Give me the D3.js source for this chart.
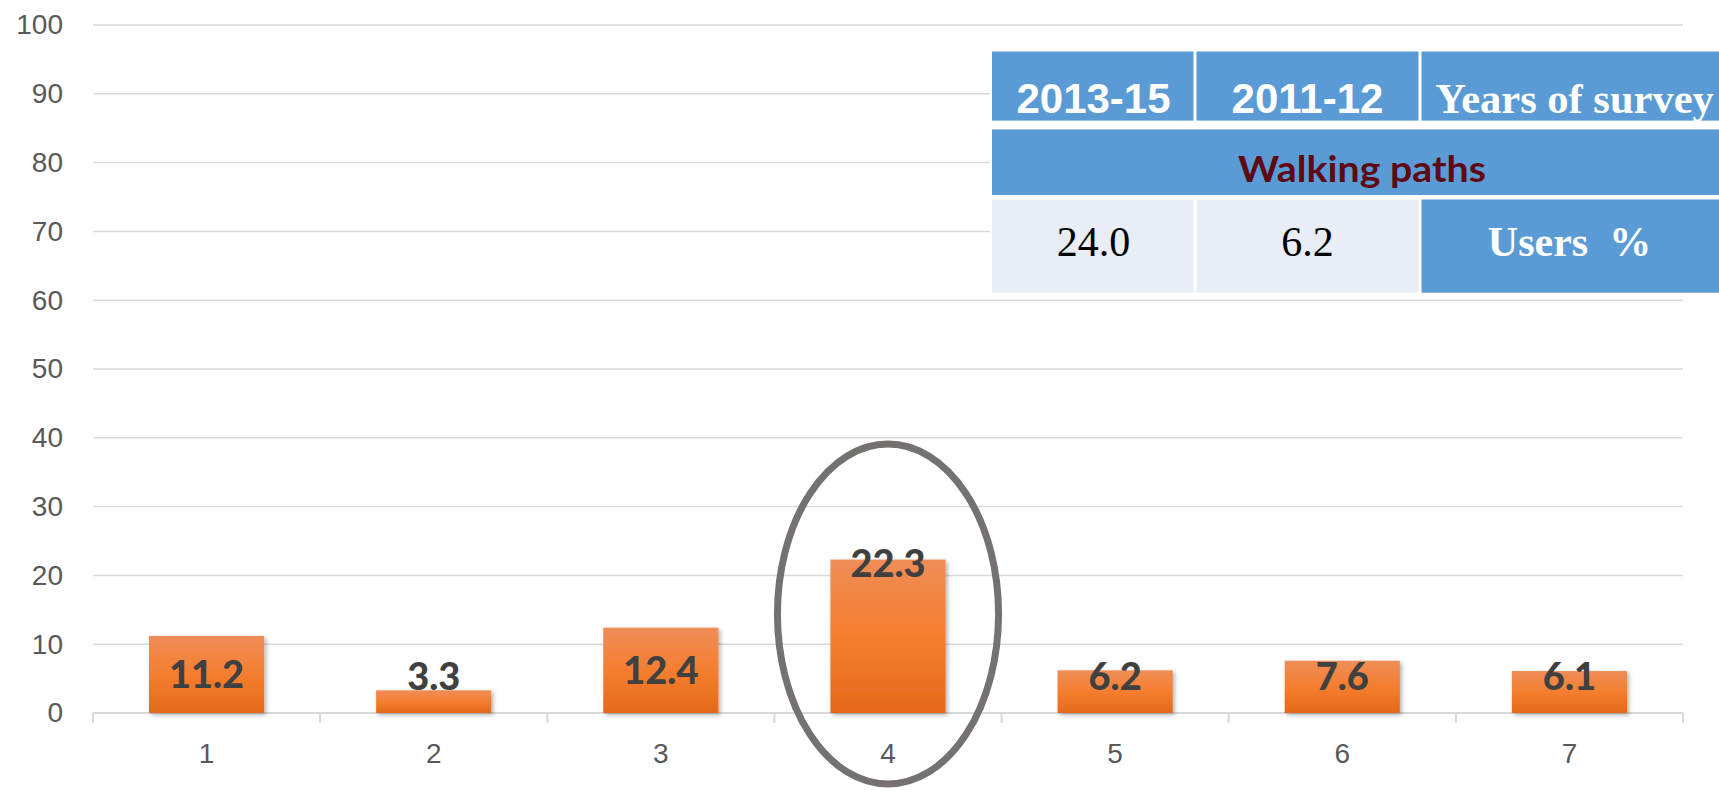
<!DOCTYPE html>
<html><head><meta charset="utf-8">
<script src="https://cdn.jsdelivr.net/npm/d3@7"></script>
<style>html,body{margin:0;padding:0;background:#fff;overflow:hidden}</style>
</head><body>
<svg id="chart" width="1719" height="792"></svg>
<script>
const categories = ["1","2","3","4","5","6","7"];
const values = [11.2, 3.3, 12.4, 22.3, 6.2, 7.6, 6.1];
const yTicks = [0,10,20,30,40,50,60,70,80,90,100];
const highlighted = "4";
const tableHeader = ["2013-15", "2011-12", "Years of survey"];
const tableTitle = "Walking paths";
const tableValues = ["24.0", "6.2"];
const tableRowLabel = "Users  %";

const W = 1719, H = 792;
const m = {left: 93, right: 1683, top: 25, bottom: 713};
const svg = d3.select("#chart");

const defs = svg.append("defs");
const grad = defs.append("linearGradient").attr("id","barGrad").attr("x1",0).attr("x2",0).attr("y1",0).attr("y2",1);
grad.append("stop").attr("offset","0%").attr("stop-color","#F08D58");
grad.append("stop").attr("offset","50%").attr("stop-color","#F47E2F");
grad.append("stop").attr("offset","100%").attr("stop-color","#E5691A");
const f = defs.append("filter").attr("id","shadow").attr("x","-20%").attr("y","-20%").attr("width","140%").attr("height","140%");
f.append("feDropShadow").attr("dx",2).attr("dy",2).attr("stdDeviation",2).attr("flood-color","#000").attr("flood-opacity",0.3);

const x = d3.scaleBand().domain(categories).range([m.left, m.right]).paddingInner(0.493).paddingOuter(0.2465);
const y = d3.scaleLinear().domain([0,100]).range([m.bottom, m.top]);

// gridlines
svg.append("g").selectAll("line").data(yTicks.filter(d=>d>0)).join("line")
  .attr("x1", m.left).attr("x2", m.right)
  .attr("y1", d=>y(d)).attr("y2", d=>y(d))
  .attr("stroke","#D9D9D9").attr("stroke-width",1.5);

// y axis labels
const yAxis = d3.axisLeft(y).tickValues(yTicks).tickSize(0).tickPadding(0);
const gy = svg.append("g").attr("transform",`translate(${m.left-30},0)`).call(yAxis);
gy.select(".domain").remove();
gy.selectAll("text").attr("font-family","'Liberation Sans', Arial, sans-serif").attr("font-size",28).attr("fill","#595959");

// x axis
const step = x.step();
const boundaries = d3.range(categories.length+1).map(i => m.left + i*step);
svg.append("line").attr("x1",m.left).attr("x2",m.right).attr("y1",y(0)).attr("y2",y(0))
  .attr("stroke","#D9D9D9").attr("stroke-width",2);
svg.append("g").selectAll("line").data(boundaries).join("line")
  .attr("x1",d=>d).attr("x2",d=>d).attr("y1",y(0)).attr("y2",y(0)+10)
  .attr("stroke","#D9D9D9").attr("stroke-width",2);
svg.append("g").selectAll("text").data(categories).join("text")
  .attr("x", d=>x(d)+x.bandwidth()/2).attr("y", 763)
  .attr("text-anchor","middle").attr("font-family","'Liberation Sans', Arial, sans-serif")
  .attr("font-size",28).attr("fill","#595959").text(d=>d);

// bars
svg.append("g").selectAll("rect").data(values).join("rect")
  .attr("x",(d,i)=>x(categories[i])).attr("width",x.bandwidth())
  .attr("y",d=>y(d)).attr("height",d=>y(0)-y(d))
  .attr("fill","url(#barGrad)").attr("filter","url(#shadow)");

// data labels
svg.append("g").selectAll("text").data(values).join("text")
  .attr("x",(d,i)=>x(categories[i])+x.bandwidth()/2)
  .attr("y",d=>{
    const top = y(d), mid = (y(d)+y(0))/2;
    return d > 20 ? top + 17 : Math.min(mid + 14, y(0) - 23);
  })
  .attr("text-anchor","middle").attr("font-family","Lato, 'Open Sans', sans-serif")
  .attr("font-weight",900).attr("font-size",38).attr("fill","#404040")
  .text(d=>d.toFixed(1));

// highlight ellipse
const cx = x(highlighted) + x.bandwidth()/2;
svg.append("ellipse").attr("cx",cx).attr("cy",614)
  .attr("rx", x.bandwidth()*0.96).attr("ry",170)
  .attr("fill","none").attr("stroke","#767171").attr("stroke-width",7);

// table
const colX = [992, 1195, 1420, 1719];
const rows = [[51.5,120.6],[129.4,195],[199.5,292.7]];
const tbl = svg.append("g");
tbl.append("rect").attr("x",colX[0]-2).attr("y",rows[0][0]-2).attr("width",W-colX[0]+2).attr("height",rows[2][1]-rows[0][0]+4).attr("fill","#fff");
const gap = 1.5;
// header row
tbl.selectAll("rect.h").data(tableHeader).join("rect").attr("class","h")
  .attr("x",(d,i)=>colX[i]+(i>0?gap:0)).attr("y",rows[0][0])
  .attr("width",(d,i)=>colX[i+1]-colX[i]-(i>0?gap:0)-(i<2?gap:0)).attr("height",rows[0][1]-rows[0][0])
  .attr("fill","#5B9BD5");
tbl.selectAll("text.h").data(tableHeader).join("text").attr("class","h")
  .attr("x",(d,i)=>(colX[i]+colX[i+1])/2 + (i===2?5:0)).attr("y",113)
  .attr("text-anchor","middle").attr("fill","#fff").attr("font-weight",700)
  .attr("font-family",(d,i)=> i<2 ? "'Liberation Sans', Arial, sans-serif" : "'Liberation Serif', 'Times New Roman', serif")
  .attr("font-size",(d,i)=> i<2 ? 42 : 42.5).text(d=>d);
// title row
tbl.append("rect").attr("x",colX[0]).attr("y",rows[1][0]).attr("width",W-colX[0]).attr("height",rows[1][1]-rows[1][0]).attr("fill","#5B9BD5");
tbl.append("text").attr("x",1362).attr("y",182).attr("text-anchor","middle")
  .attr("font-family","Lato, 'Open Sans', sans-serif").attr("font-weight",700).attr("font-size",37)
  .attr("textLength",248).attr("lengthAdjust","spacingAndGlyphs")
  .attr("fill","#5E0A14").text(tableTitle);
// values row
const row3 = tableValues.concat([tableRowLabel]);
tbl.selectAll("rect.v").data(row3).join("rect").attr("class","v")
  .attr("x",(d,i)=>colX[i]+(i>0?gap:0)).attr("y",rows[2][0])
  .attr("width",(d,i)=>colX[i+1]-colX[i]-(i>0?gap:0)-(i<2?gap:0)).attr("height",rows[2][1]-rows[2][0])
  .attr("fill",(d,i)=> i<2 ? "#E9EDF5" : "#5B9BD5");
tbl.selectAll("text.v").data(row3).join("text").attr("class","v")
  .attr("x",(d,i)=>(colX[i]+colX[i+1])/2).attr("y",256)
  .attr("text-anchor","middle").attr("xml:space","preserve")
  .style("white-space","pre")
  .attr("font-family","'Liberation Serif', 'Times New Roman', serif")
  .attr("font-weight",(d,i)=> i<2 ? 400 : 700)
  .attr("font-size",42)
  .attr("fill",(d,i)=> i<2 ? "#000" : "#fff").text(d=>d);
</script>
</body></html>
